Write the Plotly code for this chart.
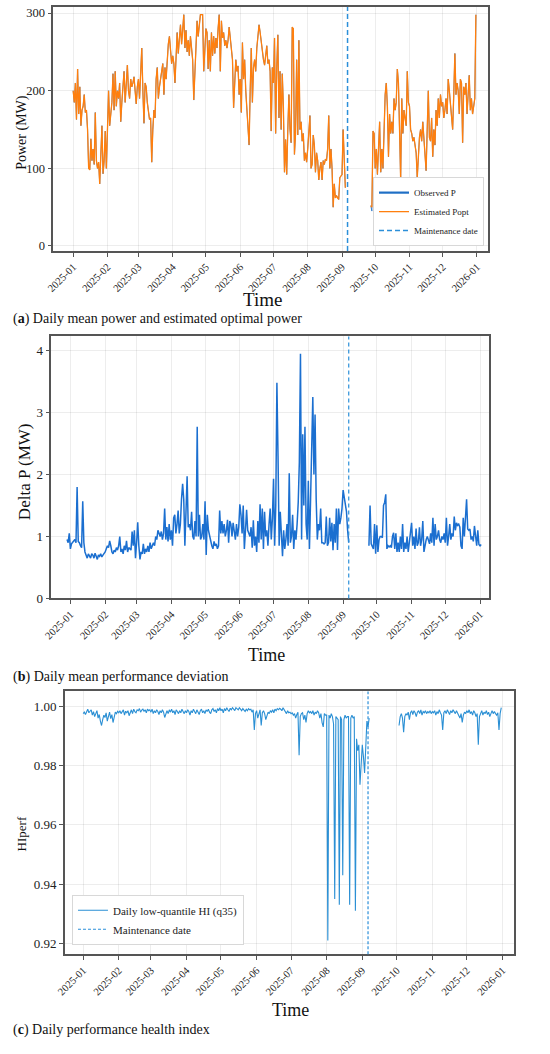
import pandas as pd
import plotly.graph_objects as go

# ---- data (daily values) ----
tick_labels = ["2025-01", "2025-02", "2025-03", "2025-04", "2025-05", "2025-06", "2025-07",
               "2025-08", "2025-09", "2025-10", "2025-11", "2025-12", "2026-01"]
maintenance_date = "2025-09-06"

# (a) estimated optimal power, MW
popt_start1 = "2025-01-01"
popt_seg1 = [
    200, 185, 210, 163, 228, 170, 205, 155, 175, 180, 195, 172, 175, 150, 100, 98, 138, 110, 125, 105, 172, 110, 100, 108, 80, 120, 155, 93, 110, 148, 100,
    150, 200, 155, 170, 185, 222, 175, 225, 180, 200, 190, 210, 160, 185, 200, 225, 185, 215, 233, 200, 190, 215, 205, 210, 218, 200, 183, 205,
    215, 190, 230, 255, 200, 158, 210, 205, 185, 170, 163, 165, 108, 150, 175, 165, 215, 230, 190, 205, 215, 220, 235, 195, 230, 215, 240, 260, 270, 245, 235,
    245, 235, 210, 250, 275, 248, 265, 285, 260, 280, 298, 255, 278, 250, 265, 245, 270, 255, 240, 188, 230, 260, 290, 270, 285, 298, 298, 298, 225, 255,
    280, 275, 228, 265, 225, 275, 245, 270, 248, 268, 255, 280, 298, 225, 290, 268, 275, 258, 265, 255, 265, 282, 270, 255, 240, 178, 220, 240, 225, 232, 195,
    215, 172, 262, 215, 240, 200, 180, 150, 130, 200, 255, 185, 230, 240, 225, 255, 268, 285, 275, 260, 255, 240, 233, 245, 258, 235, 240, 225, 148, 230,
    210, 268, 145, 230, 272, 165, 225, 150, 222, 180, 95, 137, 92, 150, 195, 150, 133, 282, 280, 118, 145, 240, 143, 265, 150, 160, 135, 145, 110, 120, 108,
    125, 145, 168, 100, 105, 143, 130, 95, 120, 110, 85, 100, 108, 85, 110, 105, 112, 110, 125, 168, 100, 125, 100, 50, 80, 62, 65, 62, 60, 88, 90,
    92, 150, 110, 75,
]
popt_start2 = "2025-09-27"
popt_seg2 = [
    52, 50, 148, 145,
    100, 125, 92, 118, 160, 95, 125, 100, 150, 195, 210, 180, 115, 170, 145, 160, 145, 190, 175, 185, 228, 210, 150, 85, 190, 145, 175, 160, 155, 225, 185,
    180, 150, 145, 135, 140, 130, 120, 88, 115, 140, 150, 135, 160, 140, 120, 97, 150, 200, 140, 135, 165, 115, 150, 130, 175, 155, 190, 165, 195, 180,
    185, 165, 175, 190, 170, 215, 200, 185, 160, 150, 195, 248, 195, 210, 200, 170, 215, 210, 133, 205, 195, 210, 170, 190, 220, 175, 190, 170, 185, 190, 298,
]
# observed P lies under the orange line everywhere; only the 28 Sep point shows
observed_seg1 = list(popt_seg1)
observed_seg2 = list(popt_seg2)
observed_seg2[1] = 45

# (b) daily mean performance deviation, MW
dp_start1 = "2024-12-29"
dp_seg1 = [
    0.95, 0.90, 1.05,
    0.80, 0.88, 0.90, 0.92, 0.95, 0.90, 1.80, 0.92, 0.90, 0.85, 0.82, 1.57, 0.90, 0.75, 0.70, 0.65, 0.72, 0.68, 0.65, 0.72, 0.70, 0.65, 0.73, 0.68, 0.63, 0.70, 0.68, 0.72, 0.67, 0.70, 0.72,
    0.75, 0.80, 0.85, 0.82, 0.93, 0.85, 0.75, 0.72, 0.78, 0.75, 0.82, 0.78, 0.85, 1.00, 0.75, 0.80, 0.72, 0.85, 0.78, 0.93, 0.75, 0.82, 0.80, 0.78, 1.08, 0.85, 1.10, 0.65,
    0.90, 1.23, 0.85, 0.63, 0.75, 0.72, 0.88, 0.72, 0.80, 0.75, 0.85, 0.75, 0.90, 0.80, 0.85, 0.90, 0.85, 1.00, 0.95, 1.10, 1.05, 1.00, 1.08, 0.95, 1.05, 1.45, 0.95, 1.15, 0.92, 1.20, 0.95,
    1.10, 0.85, 1.30, 1.35, 1.05, 1.20, 1.42, 1.05, 1.20, 1.60, 1.85, 1.60, 0.85, 1.40, 1.97, 1.15, 1.20, 1.10, 1.40, 1.00, 0.95, 1.25, 1.00, 2.77, 1.00, 1.35, 0.95, 1.00, 1.20, 0.95,
    1.57, 0.70, 1.35, 1.10, 1.00, 0.90, 0.85, 0.80, 0.92, 0.85, 0.88, 0.80, 0.85, 1.42, 1.05, 1.25, 1.05, 1.20, 1.00, 1.10, 1.27, 0.90, 1.25, 1.20, 1.00, 1.22, 1.10, 0.95, 1.20, 1.00, 1.15,
    1.52, 1.35, 1.05, 1.50, 0.80, 1.10, 1.43, 1.10, 1.05, 1.00, 1.15, 0.82, 1.26, 0.85, 1.00, 0.75, 1.25, 0.90, 1.52, 0.95, 1.45, 0.80, 1.40, 1.00, 1.10, 0.85, 1.20, 1.45, 0.95, 1.30,
    1.93, 0.85, 1.50, 3.48, 2.30, 0.85, 1.40, 1.00, 0.68, 1.10, 0.80, 0.95, 1.20, 0.85, 2.02, 0.90, 1.00, 1.35, 0.80, 1.10, 0.95, 1.20, 1.55, 2.20, 3.95, 0.95, 2.65, 1.50, 2.77, 1.20, 0.95,
    1.90, 0.80, 1.60, 2.40, 3.25, 2.00, 2.97, 1.60, 0.95, 1.20, 1.10, 1.45, 0.90, 0.90, 0.88, 0.90, 1.32, 0.85, 0.90, 1.30, 0.92, 1.22, 0.78, 1.20, 0.90, 1.45, 0.78, 1.45, 1.20, 1.30, 1.45,
    1.75, 1.60, 1.50, 1.40, 1.10, 0.90,
]
dp_start2 = "2025-09-24"
dp_seg2 = [
    0.85, 1.50, 0.88, 0.85, 0.80, 1.20, 0.72,
    1.18, 0.75, 0.95, 1.00, 1.00, 0.98, 1.50, 1.55, 1.68, 0.80, 0.85, 0.83, 0.85, 0.82, 1.00, 1.06, 0.80, 1.05, 0.75, 0.90, 0.75, 1.00, 0.80, 1.20, 0.75, 0.90, 0.80, 1.00, 0.75, 0.90, 1.05,
    1.22, 0.85, 1.00, 0.80, 1.13, 0.85, 0.90, 1.15, 0.85, 0.95, 1.25, 0.75, 0.90, 0.95, 1.00, 0.92, 0.88, 1.05, 0.90, 1.30, 0.85, 1.20, 0.95, 1.00, 1.10, 0.95, 0.90, 1.00, 0.95, 1.05,
    0.90, 1.30, 0.85, 1.00, 1.20, 0.95, 1.05, 1.00, 1.32, 1.10, 1.22, 1.18, 1.20, 1.15, 0.85, 0.80, 1.30, 1.00, 1.25, 1.60, 1.12, 1.10, 1.12, 0.95, 1.00, 0.92, 1.17, 0.95, 0.85, 1.10, 0.87,
    0.85, 0.87,
]

# (c) daily low-quantile health index
hi_start1 = "2025-01-01"
hi_seg1 = [
    0.9975, 0.9980, 0.9972, 0.9985, 0.9990, 0.9978, 0.9983, 0.9988, 0.9970, 0.9982, 0.9965, 0.9978, 0.9985, 0.9960, 0.9972, 0.9950, 0.9935, 0.9955, 0.9970, 0.9962, 0.9978, 0.9950, 0.9965, 0.9980, 0.9958, 0.9972, 0.9945, 0.9968, 0.9980, 0.9975, 0.9983,
    0.9978, 0.9985, 0.9975, 0.9982, 0.9988, 0.9970, 0.9983, 0.9978, 0.9985, 0.9968, 0.9980, 0.9988, 0.9975, 0.9990, 0.9982, 0.9978, 0.9988, 0.9985, 0.9992, 0.9980, 0.9987, 0.9990, 0.9983, 0.9988, 0.9978, 0.9990, 0.9985, 0.9988,
    0.9980, 0.9990, 0.9975, 0.9985, 0.9978, 0.9988, 0.9982, 0.9972, 0.9985, 0.9978, 0.9988, 0.9980, 0.9962, 0.9978, 0.9985, 0.9975, 0.9988, 0.9980, 0.9990, 0.9978, 0.9985, 0.9972, 0.9988, 0.9982, 0.9975, 0.9985, 0.9978, 0.9990, 0.9982, 0.9975, 0.9985,
    0.9978, 0.9988, 0.9982, 0.9970, 0.9985, 0.9978, 0.9990, 0.9982, 0.9975, 0.9988, 0.9980, 0.9972, 0.9985, 0.9990, 0.9978, 0.9985, 0.9975, 0.9988, 0.9982, 0.9990, 0.9980, 0.9975, 0.9988, 0.9992, 0.9982, 0.9988, 0.9978, 0.9992, 0.9985, 0.9995,
    0.9985, 0.9990, 0.9978, 0.9992, 0.9985, 0.9995, 0.9988, 0.9982, 0.9993, 0.9988, 0.9995, 0.9990, 0.9985, 0.9995, 0.9992, 0.9988, 0.9995, 0.9990, 0.9985, 0.9992, 0.9988, 0.9982, 0.9990, 0.9985, 0.9992, 0.9988, 0.9990, 0.9980, 0.9988, 0.9920, 0.9975,
    0.9985, 0.9960, 0.9975, 0.9988, 0.9935, 0.9978, 0.9985, 0.9975, 0.9955, 0.9968, 0.9980, 0.9975, 0.9985, 0.9980, 0.9988, 0.9978, 0.9990, 0.9985, 0.9992, 0.9988, 0.9993, 0.9990, 0.9985, 0.9995, 0.9988, 0.9982, 0.9975, 0.9985, 0.9978, 0.9980,
    0.9975, 0.9978, 0.9970, 0.9975, 0.9960, 0.9972, 0.9980, 0.9835, 0.9965, 0.9975, 0.9978, 0.9955, 0.9970, 0.9945, 0.9975, 0.9985, 0.9978, 0.9982, 0.9975, 0.9985, 0.9970, 0.9980, 0.9975, 0.9985, 0.9978, 0.9960, 0.9975, 0.9945, 0.9930, 0.9975, 0.9970,
    0.9970, 0.9210, 0.9970, 0.9960, 0.9975, 0.9965, 0.9940, 0.9350, 0.9965, 0.9960, 0.9955, 0.9330, 0.9965, 0.9955, 0.9430, 0.9955, 0.9970, 0.9960, 0.9965, 0.9965, 0.9330, 0.9960, 0.9970, 0.9960, 0.9965, 0.9310, 0.9890, 0.9850, 0.9870, 0.9735, 0.9810,
    0.9870, 0.9830, 0.9775, 0.9860, 0.9950, 0.9930, 0.9960,
]
hi_start2 = "2025-10-03"
hi_seg2 = [
    0.9935, 0.9965, 0.9975, 0.9960, 0.9912, 0.9965, 0.9975, 0.9970, 0.9980, 0.9955, 0.9978, 0.9985, 0.9972, 0.9985, 0.9978, 0.9965, 0.9980, 0.9985, 0.9975, 0.9988, 0.9970, 0.9982, 0.9978, 0.9985, 0.9975, 0.9982, 0.9978, 0.9985, 0.9975,
    0.9982, 0.9978, 0.9985, 0.9970, 0.9982, 0.9975, 0.9988, 0.9978, 0.9970, 0.9920, 0.9978, 0.9985, 0.9975, 0.9988, 0.9980, 0.9972, 0.9985, 0.9978, 0.9988, 0.9980, 0.9975, 0.9985, 0.9978, 0.9970, 0.9960, 0.9975, 0.9945, 0.9970, 0.9980, 0.9975,
    0.9985, 0.9978, 0.9988, 0.9975, 0.9982, 0.9970, 0.9985, 0.9978, 0.9965, 0.9975, 0.9870, 0.9965, 0.9975, 0.9985, 0.9970, 0.9980, 0.9975, 0.9985, 0.9972, 0.9980, 0.9965, 0.9978, 0.9985, 0.9975, 0.9982, 0.9975, 0.9970, 0.9978, 0.9920, 0.9975, 0.9995,
]


def two_segments(start1, seg1, start2, seg2):
    # daily dates for both pieces, with a None break so the gap is not bridged
    d1 = pd.date_range(start1, periods=len(seg1), freq="D").strftime("%Y-%m-%d").tolist()
    d2 = pd.date_range(start2, periods=len(seg2), freq="D").strftime("%Y-%m-%d").tolist()
    return d1 + [None] + d2, list(seg1) + [None] + list(seg2)


FONT = "Liberation Serif"
ORANGE = "#ff7f0e"
BLUE_OBS = "#1f6fc5"
BLUE_B = "#1b6fd0"
BLUE_C = "#2a8fd4"
BLUE_DASH = "#2b8fd9"
tick_dates = [t + "-01" for t in tick_labels]

fig = go.Figure()

# observed P drawn thin so it stays hidden under the orange line, legend handle drawn thick
xa, ya = two_segments(popt_start1, observed_seg1, popt_start2, observed_seg2)
fig.add_trace(go.Scatter(x=xa, y=ya, mode="lines", showlegend=False,
                         line=dict(color=BLUE_OBS, width=0.8), xaxis="x", yaxis="y"))
fig.add_trace(go.Scatter(x=[None], y=[None], mode="lines", name="Observed P",
                         line=dict(color=BLUE_OBS, width=2.2), xaxis="x", yaxis="y", legend="legend"))
xa, ya = two_segments(popt_start1, popt_seg1, popt_start2, popt_seg2)
fig.add_trace(go.Scatter(x=xa, y=ya, mode="lines", name="Estimated Popt",
                         line=dict(color=ORANGE, width=1.3), xaxis="x", yaxis="y", legend="legend"))

xb, yb = two_segments(dp_start1, dp_seg1, dp_start2, dp_seg2)
fig.add_trace(go.Scatter(x=xb, y=yb, mode="lines", showlegend=False,
                         line=dict(color=BLUE_B, width=1.5), xaxis="x2", yaxis="y2"))

xc, yc = two_segments(hi_start1, hi_seg1, hi_start2, hi_seg2)
fig.add_trace(go.Scatter(x=xc, y=yc, mode="lines", name="Daily low-quantile HI (q35)",
                         line=dict(color=BLUE_C, width=1.1), xaxis="x3", yaxis="y3", legend="legend2"))

# maintenance lines
for xr, yr, leg, w, dash in [("x", "y domain", "legend", 1.5, "5px,3px"),
                             ("x2", "y2 domain", None, 1.2, "4px,3px"),
                             ("x3", "y3 domain", "legend2", 1.2, "3px,2px")]:
    shape = dict(type="line", xref=xr, yref=yr, x0=maintenance_date, x1=maintenance_date, y0=0, y1=1,
                 line=dict(color=BLUE_DASH, width=w, dash=dash), layer="above")
    if leg:
        shape.update(showlegend=True, name="Maintenance date", legend=leg)
    fig.add_shape(**shape)

axis_common = dict(showline=True, mirror=True, linecolor="#555555", linewidth=1.5,
                   ticks="outside", ticklen=4, tickcolor="#555555",
                   showgrid=True, gridcolor="rgba(0,0,0,0.07)", gridwidth=0.6,
                   zeroline=False, tickfont=dict(family=FONT, size=12.5, color="#222"))
xcommon = dict(axis_common, type="date", tickvals=tick_dates, ticktext=tick_labels, tickangle=-45,
               tickfont=dict(family=FONT, size=10.5, color="#222"))

fig.update_layout(
    width=550, height=1054,
    margin=dict(l=0, r=0, t=0, b=0),
    paper_bgcolor="white", plot_bgcolor="white",
    font=dict(family=FONT, color="#222"),
    xaxis=dict(xcommon, domain=[0.0818, 0.8855], anchor="y", range=["2024-12-14", "2026-01-11"]),
    yaxis=dict(axis_common, domain=[0.7600, 0.9934], anchor="x", range=[-6.5, 308],
               tickvals=[0, 100, 200, 300]),
    xaxis2=dict(xcommon, domain=[0.0782, 0.8873], anchor="y2", range=["2024-12-15", "2026-01-09"]),
    yaxis2=dict(axis_common, domain=[0.4279, 0.6784], anchor="x2", range=[0, 4.23],
                tickvals=[0, 1, 2, 3, 4], tickfont=dict(family=FONT, size=13, color="#222")),
    xaxis3=dict(xcommon, domain=[0.1031, 0.9333], anchor="y3", range=["2024-12-16", "2026-01-11"]),
    yaxis3=dict(axis_common, domain=[0.0876, 0.3390], anchor="x3", range=[0.9163, 1.005],
                tickvals=[0.92, 0.94, 0.96, 0.98, 1.00], tickformat=".2f",
                tickfont=dict(family=FONT, size=13, color="#222")),
    legend=dict(x=0.878, y=0.7647, xanchor="right", yanchor="bottom",
                bgcolor="white", bordercolor="#d8d8d8", borderwidth=1,
                font=dict(family=FONT, size=9, color="#222"), itemwidth=30, tracegroupgap=0),
    legend2=dict(x=0.1164, y=0.0968, xanchor="left", yanchor="bottom",
                 bgcolor="white", bordercolor="#d8d8d8", borderwidth=1,
                 font=dict(family=FONT, size=11, color="#222"), itemwidth=30),
)

annotations = [
    # x-axis titles
    dict(text="Time", x=258 / 550, y=1 - 302 / 1054, font=dict(size=19)),
    dict(text="Time", x=262 / 550, y=1 - 660 / 1054, font=dict(size=18)),
    dict(text="Time", x=286 / 550, y=1 - 1018 / 1054, font=dict(size=18)),
    # y-axis titles
    dict(text="Power (MW)", x=13 / 550, y=1 - 133 / 1054, textangle=-90, font=dict(size=14)),
    dict(text="Delta P (MW)", x=16 / 550, y=1 - 475 / 1054, textangle=-90, font=dict(size=17)),
    dict(text="HIperf", x=13 / 550, y=1 - 840 / 1054, textangle=-90, font=dict(size=13)),
]
for a in annotations:
    a.update(xref="paper", yref="paper", showarrow=False, xanchor="center", yanchor="middle")
    a["font"].update(family=FONT, color="#111")

captions = [
    ("(<b>a</b>) Daily mean power and estimated optimal power", 321),
    ("(<b>b</b>) Daily mean performance deviation", 682),
    ("(<b>c</b>) Daily performance health index", 1038),
]
for text, ypx in captions:
    annotations.append(dict(text=text, x=2 / 550, y=1 - ypx / 1054, xref="paper", yref="paper",
                            showarrow=False, xanchor="left", yanchor="middle",
                            font=dict(family=FONT, size=14, color="#111")))

fig.update_layout(annotations=annotations)

# page body has a default 8px margin; drop it so the figure sits at the window origin
fig.write_html("out.html", config={"displayModeBar": False},
               post_script="document.body.style.margin='0';")
